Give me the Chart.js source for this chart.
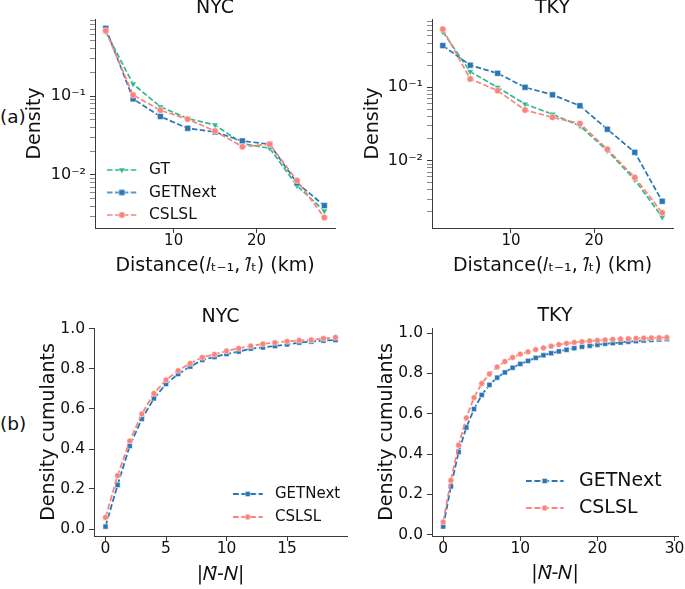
<!DOCTYPE html>
<html><head><meta charset="utf-8">
<script src="https://cdn.jsdelivr.net/npm/chart.js@4/dist/chart.umd.min.js"></script>
<style>
html,body{margin:0;padding:0;background:#fff;overflow:hidden;width:685px;height:589px;position:relative;}
canvas{position:absolute;}
.lab{position:absolute;font-family:"DejaVu Sans";font-size:18.5px;color:#111;line-height:20px;white-space:nowrap;}
</style></head><body>
<div class="lab" style="left:0px;top:107px">(a)</div>
<div class="lab" style="left:0px;top:414px">(b)</div>
<canvas id="cA" width="340" height="290" style="left:0px;top:0px"></canvas>
<canvas id="cB" width="335" height="290" style="left:345px;top:0px"></canvas>
<canvas id="cC" width="352" height="310" style="left:0px;top:290px"></canvas>
<canvas id="cD" width="345" height="310" style="left:345px;top:290px"></canvas>
<script>
// ---------------- data ----------------
const distanceKm = [1.8, 5.1, 8.4, 11.7, 15.0, 18.3, 21.6, 24.9, 28.2];

const nycGT      = [0.65, 0.142, 0.073, 0.052, 0.043, 0.025, 0.0218, 0.0073, 0.0035];
const nycGETNext = [0.72, 0.092, 0.055, 0.039, 0.035, 0.027, 0.0245, 0.0079, 0.0041];
const nycCSLSL   = [0.67, 0.103, 0.066, 0.051, 0.036, 0.0228, 0.0245, 0.0085, 0.0029];

const tkyGT      = [0.57, 0.163, 0.100, 0.059, 0.043, 0.0297, 0.0137, 0.0055, 0.0017];
const tkyGETNext = [0.37, 0.200, 0.155, 0.100, 0.079, 0.056, 0.0268, 0.0130, 0.0028];
const tkyCSLSL   = [0.62, 0.130, 0.090, 0.049, 0.039, 0.032, 0.0143, 0.0059, 0.00195];

const nycDiff = [0, 1, 2, 3, 4, 5, 6, 7, 8, 9, 10, 11, 12, 13, 14, 15, 16, 17, 18, 19];
const nycCumGETNext = [0.012, 0.22, 0.415, 0.55, 0.653, 0.725, 0.775, 0.812, 0.845, 0.86,
                       0.875, 0.887, 0.902, 0.908, 0.915, 0.923, 0.932, 0.937, 0.942, 0.945];
const nycCumCSLSL   = [0.058, 0.267, 0.44, 0.575, 0.678, 0.745, 0.792, 0.828, 0.858, 0.873,
                       0.89, 0.903, 0.915, 0.925, 0.932, 0.938, 0.943, 0.945, 0.953, 0.958];

const tkyDiff = [0, 1, 2, 3, 4, 5, 6, 7, 8, 9, 10, 11, 12, 13, 14, 15, 16, 17, 18, 19,
                 20, 21, 22, 23, 24, 25, 26, 27, 28, 29];
const tkyCumGETNext = [0.041, 0.24, 0.41, 0.532, 0.623, 0.693, 0.743, 0.779, 0.805, 0.828,
                       0.847, 0.862, 0.877, 0.89, 0.9, 0.909, 0.917, 0.925, 0.932, 0.937,
                       0.942, 0.947, 0.95, 0.953, 0.957, 0.96, 0.963, 0.966, 0.968, 0.97];
const tkyCumCSLSL   = [0.063, 0.27, 0.444, 0.58, 0.68, 0.75, 0.797, 0.832, 0.859, 0.879,
                       0.896, 0.907, 0.918, 0.926, 0.935, 0.943, 0.949, 0.954, 0.957, 0.961,
                       0.963, 0.966, 0.969, 0.971, 0.972, 0.974, 0.975, 0.976, 0.977, 0.978];

const distTicks = [10, 20];
const nycDiffTicks = [0, 5, 10, 15];
const tkyDiffTicks = [0, 10, 20, 30];
const cumTicks = [0, 0.2, 0.4, 0.6, 0.8, 1.0];

const titles = ['NYC', 'TKY'];
const distLabel = 'Distance(𝑙ₜ₋₁, 𝑙̂ₜ) (km)';
const diffLabel = '|𝑁̂-𝑁|';

// ---------------- styles ----------------
const FONT = 'DejaVu Sans';
const TXT = '#111';
const AXC = '#3a3a3a';
Chart.defaults.font.family = FONT;
Chart.defaults.color = TXT;
Chart.defaults.animation = false;

const STY = {
  GT:      {color: '#2fb98d', pointStyle: 'triangle', rot: 180},
  GETNext: {color: '#2a76b5', pointStyle: 'rect', rot: 0},
  CSLSL:   {color: '#f8847c', pointStyle: 'circle', rot: 0}
};
const ORDER = {GT: 2, GETNext: 1, CSLSL: 0};

function markerRadius(style, big) {
  if (style === 'rect') return big ? 4.2 : 3.6;
  if (style === 'circle') return big ? 3.2 : 2.9;
  return big ? 3.8 : 3.2;
}

function series(name, xs, ys, big) {
  const s = STY[name];
  return {
    label: name,
    data: xs.map((x, i) => ({x: x, y: ys[i]})),
    borderColor: s.color, backgroundColor: s.color,
    borderWidth: big ? 1.7 : 1.8,
    borderDash: big ? [5.5, 2.4] : [6, 2.6],
    pointStyle: s.pointStyle, pointRotation: s.rot,
    pointRadius: markerRadius(s.pointStyle, big),
    pointBackgroundColor: s.color,
    pointBorderColor: 'rgba(255,255,255,0.7)', pointBorderWidth: 0.7,
    tension: 0, fill: false, order: ORDER[name]
  };
}

function drawMarker(g, style, x, y, r, rot, color) {
  g.fillStyle = color;
  g.strokeStyle = 'rgba(255,255,255,0.7)';
  g.lineWidth = 0.7;
  g.beginPath();
  if (style === 'rect') {
    const s = r * Math.SQRT1_2;
    g.rect(x - s, y - s, 2 * s, 2 * s);
  } else if (style === 'circle') {
    g.arc(x, y, r, 0, Math.PI * 2);
  } else {
    let a = rot * Math.PI / 180;
    g.moveTo(x + Math.sin(a) * r, y - Math.cos(a) * r);
    a += 2 * Math.PI / 3;
    g.lineTo(x + Math.sin(a) * r, y - Math.cos(a) * r);
    a += 2 * Math.PI / 3;
    g.lineTo(x + Math.sin(a) * r, y - Math.cos(a) * r);
    g.closePath();
  }
  g.fill();
  g.stroke();
}

function legendIcon(ds, boxW, lineLen) {
  const c = document.createElement('canvas');
  c.width = Math.round(boxW); c.height = 16;
  const g = c.getContext('2d');
  g.strokeStyle = ds.borderColor; g.lineWidth = ds.borderWidth;
  g.setLineDash(ds.borderDash);
  g.beginPath(); g.moveTo(0, 8); g.lineTo(lineLen, 8); g.stroke();
  g.setLineDash([]);
  drawMarker(g, ds.pointStyle, lineLen / 2, 8, ds.pointRadius, ds.pointRotation, ds.borderColor);
  return c;
}

const SUP = {'-': '⁻', '0': '⁰', '1': '¹', '2': '²', '3': '³', '4': '⁴', '5': '⁵', '6': '⁶', '7': '⁷', '8': '⁸', '9': '⁹'};
function logLabel(v) {
  const lg = Math.log10(v);
  if (Math.abs(lg - Math.round(lg)) > 1e-6) return '';
  return '10' + String(Math.round(lg)).split('').map(ch => SUP[ch]).join('');
}

function legendPlacer(lx, ly) {
  return {
    id: 'legendPlacer',
    afterLayout(chart) {
      const lg = chart.legend;
      if (!lg) return;
      const w = lg.width, h = lg.height;
      lg.left = lx; lg.right = lx + w; lg.top = ly; lg.bottom = ly + h;
    }
  };
}

function makePanel(p) {
  const datasets = p.datasets;
  const opts = {
    responsive: false, animation: false, events: [],
    layout: {padding: {left: 0, top: 0, right: p.padR, bottom: 0}},
    plugins: {
      tooltip: {enabled: false},
      title: {
        display: true, text: p.title, fullSize: false, color: TXT,
        font: {family: FONT, size: 19, weight: 'normal', lineHeight: 0.8},
        padding: {top: p.titlePad[0], bottom: p.titlePad[1]}
      },
      legend: {display: false}
    },
    scales: {
      x: {
        type: 'linear', min: p.xMin, max: p.xMax,
        afterBuildTicks: s => { s.ticks = p.xTicks.map(v => ({value: v})); },
        afterFit: s => { s.height = p.xH; },
        ticks: {font: {size: p.tickFs, lineHeight: 1}, color: TXT, padding: p.xTickPad, autoSkip: false, maxRotation: 0,
                callback: v => String(v)},
        grid: {display: true, drawOnChartArea: false, drawTicks: true, tickLength: 5, color: AXC, tickWidth: 1},
        border: {display: true, color: AXC, width: 1},
        title: {display: true, text: p.xLabel, color: TXT, font: {size: 19, lineHeight: 1.2},
                padding: {top: 0, bottom: p.xTitlePad}}
      },
      y: p.yScale
    }
  };
  if (p.legend) {
    const L = p.legend;
    const icons = datasets.map(ds => legendIcon(ds, L.boxW, L.lineLen));
    opts.plugins.legend = {
      display: true, position: 'chartArea', align: 'start',
      labels: {
        usePointStyle: true, pointStyleWidth: L.boxW, padding: L.pad,
        font: {family: FONT, size: L.fs}, color: TXT,
        generateLabels: chart => chart.data.datasets.map((ds, i) => ({
          text: ds.label, fillStyle: ds.borderColor, strokeStyle: ds.borderColor, lineWidth: 0,
          pointStyle: icons[i], rotation: 0, hidden: false, datasetIndex: i, fontColor: TXT
        }))
      }
    };
  }
  return new Chart(document.getElementById(p.id), {
    type: 'line',
    data: {datasets: datasets},
    options: opts,
    plugins: p.legend ? [legendPlacer(p.legend.x, p.legend.y)] : []
  });
}

function logScale(min, max, width, yTitlePad) {
  return {
    type: 'logarithmic', min: min, max: max,
    afterBuildTicks: s => {
      const t = [];
      for (let e = -5; e <= 1; e++) {
        for (let m = 1; m < 10; m++) {
          const v = m * Math.pow(10, e);
          if (v >= s.min && v <= s.max) t.push({value: v, major: m === 1});
        }
      }
      s.ticks = t;
    },
    afterFit: s => { s.width = width; },
    ticks: {font: {size: 16}, color: TXT, padding: 4, autoSkip: false, callback: v => logLabel(v)},
    grid: {display: true, drawOnChartArea: false, drawTicks: true, tickLength: 5, color: AXC,
           tickWidth: ctx => (ctx.tick && ctx.tick.major) ? 1 : 0.6},
    border: {display: true, color: AXC, width: 1},
    title: {display: true, text: 'Density', color: TXT, font: {size: 19, lineHeight: 1.2},
            padding: {top: yTitlePad, bottom: 0}}
  };
}

function cumScale(min, max, width, yTitlePad) {
  return {
    type: 'linear', min: min, max: max,
    afterBuildTicks: s => { s.ticks = cumTicks.map(v => ({value: v})); },
    afterFit: s => { s.width = width; },
    ticks: {font: {size: 15.5}, color: TXT, padding: 4, autoSkip: false, callback: v => v.toFixed(1)},
    grid: {display: true, drawOnChartArea: false, drawTicks: true, tickLength: 5, color: AXC, tickWidth: 1},
    border: {display: true, color: AXC, width: 1},
    title: {display: true, text: 'Density cumulants', color: TXT, font: {size: 19, lineHeight: 1.2},
            padding: {top: yTitlePad, bottom: 0}}
  };
}

// (a) NYC distance
makePanel({
  id: 'cA', title: titles[0], padR: 3, titlePad: [0, 3.8], tickFs: 15,
  xMin: 0.5, xMax: 29.5, xTicks: distTicks, xH: 62, xTickPad: 1, xLabel: distLabel, xTitlePad: 12.6,
  yScale: logScale(Math.pow(10, -2.671), Math.pow(10, -0.025), 95, 23.6),
  datasets: [series('GT', distanceKm, nycGT, true), series('GETNext', distanceKm, nycGETNext, true),
             series('CSLSL', distanceKm, nycCSLSL, true)],
  legend: {x: 100, y: 155.25, fs: 15.5, pad: 7, boxW: 34.25, lineLen: 29.6}
});

// (a) TKY distance
makePanel({
  id: 'cB', title: titles[1], padR: 7, titlePad: [0, 3.8], tickFs: 15,
  xMin: 0.5, xMax: 29.5, xTicks: distTicks, xH: 62, xTickPad: 1, xLabel: distLabel, xTitlePad: 12.6,
  yScale: logScale(Math.pow(10, -2.917), Math.pow(10, -0.0695), 87, 17.1),
  datasets: [series('GT', distanceKm, tkyGT, true), series('GETNext', distanceKm, tkyGETNext, true),
             series('CSLSL', distanceKm, tkyCSLSL, true)]
});

// (b) NYC cumulants
makePanel({
  id: 'cC', title: titles[0], padR: 5, titlePad: [19.3, 3.5], tickFs: 15.5,
  xMin: -0.95, xMax: 19.95, xTicks: nycDiffTicks, xH: 64, xTickPad: 0.3, xLabel: diffLabel, xTitlePad: 13.6,
  yScale: cumScale(-0.035, 1.005, 94, 37.3),
  datasets: [series('GETNext', nycDiff, nycCumGETNext, false), series('CSLSL', nycDiff, nycCumCSLSL, false)],
  legend: {x: 225, y: 188.5, fs: 15, pad: 8, boxW: 34.5, lineLen: 30}
});

// (b) TKY cumulants
makePanel({
  id: 'cD', title: titles[1], padR: 12, titlePad: [18.7, 4.1], tickFs: 15.5,
  xMin: -1.45, xMax: 30.45, xTicks: tkyDiffTicks, xH: 64, xTickPad: 0.3, xLabel: diffLabel, xTitlePad: 14.6,
  yScale: cumScale(-0.006, 1.025, 87, 30.6),
  datasets: [series('GETNext', tkyDiff, tkyCumGETNext, false), series('CSLSL', tkyDiff, tkyCumCSLSL, false)],
  legend: {x: 173, y: 173.5, fs: 19, pad: 8, boxW: 43.5, lineLen: 37.8}
});
</script>
</body></html>
